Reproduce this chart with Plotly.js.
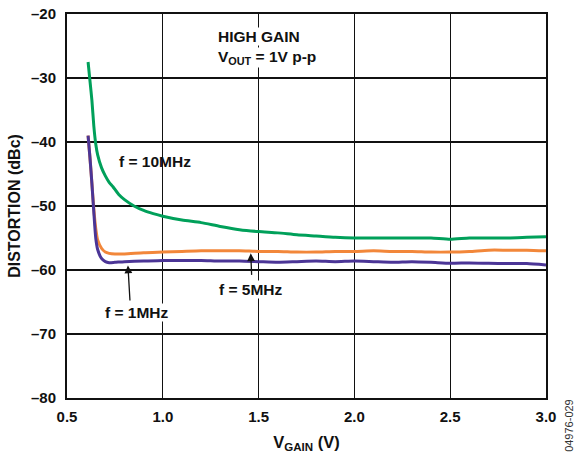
<!DOCTYPE html>
<html><head><meta charset="utf-8">
<script src="https://cdn.plot.ly/plotly-3.0.1.min.js"></script>
<style>html,body{margin:0;padding:0;background:#fff}#chart{width:576px;height:453px}</style>
</head><body><div id="chart"></div>
<script>
// V_GAIN (V) values and distortion (dBc) per frequency
var xF10 = [0.61,0.62,0.63,0.64,0.65,0.66,0.68,0.70,0.72,0.74,0.77,0.80,0.85,0.90,0.95,1.0,1.1,1.2,1.3,1.4,1.5,1.6,1.7,1.8,1.9,2.0,2.1,2.2,2.3,2.4,2.5,2.6,2.7,2.8,2.9,3.0];
var yF10 = [-27.5,-30.5,-33.5,-37.5,-40.3,-42.0,-44.0,-45.3,-46.3,-47.0,-48.2,-49.0,-50.0,-50.7,-51.2,-51.6,-52.2,-52.6,-53.2,-53.7,-54.0,-54.2,-54.5,-54.7,-54.9,-55.0,-55.0,-55.0,-55.0,-55.0,-55.2,-55.0,-55.0,-55.0,-54.9,-54.8];
var xF5 = [0.61,0.62,0.63,0.64,0.65,0.66,0.68,0.70,0.72,0.75,0.80,0.9,1.0,1.1,1.2,1.3,1.4,1.5,1.6,1.7,1.8,1.9,2.0,2.1,2.2,2.3,2.4,2.5,2.6,2.7,2.8,2.9,3.0];
var yF5 = [-39.0,-42.5,-46.5,-50.5,-53.5,-55.3,-56.6,-57.2,-57.4,-57.5,-57.5,-57.3,-57.2,-57.1,-57.0,-57.0,-57.0,-57.1,-57.1,-57.2,-57.2,-57.1,-57.1,-57.0,-57.1,-57.1,-57.2,-57.2,-57.1,-56.9,-56.9,-56.9,-57.0];
var xF1 = [0.61,0.62,0.63,0.64,0.65,0.66,0.68,0.70,0.72,0.75,0.80,0.9,1.0,1.1,1.2,1.3,1.4,1.5,1.6,1.7,1.8,1.9,2.0,2.1,2.2,2.3,2.4,2.5,2.6,2.7,2.8,2.9,3.0];
var yF1 = [-39.0,-42.5,-46.5,-51.0,-55.0,-56.8,-58.2,-58.7,-58.85,-58.8,-58.7,-58.6,-58.5,-58.5,-58.5,-58.6,-58.6,-58.7,-58.8,-58.7,-58.6,-58.7,-58.6,-58.7,-58.8,-58.7,-58.8,-58.95,-58.9,-58.95,-59.0,-59.0,-59.2];

var xTicks = [0.5,1.0,1.5,2.0,2.5,3.0];
var xTickText = ['0.5','1.0','1.5','2.0','2.5','3.0'];
var yTicks = [-80,-70,-60,-50,-40,-30,-20];
var yTickText = ['\u201380','\u201370','\u201360','\u201350','\u201340','\u201330','\u201320'];

var FONT = 'Liberation Sans, Arial, sans-serif';
var traces = [
  {x:xF10, y:yF10, mode:'lines', line:{color:'#00A05A', width:3, shape:'spline', smoothing:0.6}, hoverinfo:'none'},
  {x:xF5, y:yF5, mode:'lines', line:{color:'#F2873A', width:3, shape:'spline', smoothing:0.6}, hoverinfo:'none'},
  {x:xF1, y:yF1, mode:'lines', line:{color:'#4B3596', width:3, shape:'spline', smoothing:0.6}, hoverinfo:'none'}
];
var tf = {family:FONT, size:15.5, color:'#111'};
var layout = {
  width:576, height:453, showlegend:false,
  margin:{l:67, r:30, t:14, b:55},
  paper_bgcolor:'#fff', plot_bgcolor:'#fff',
  font:{family:FONT, color:'#111'},
  xaxis:{range:[0.5,3.0], tickvals:xTicks, ticktext:xTickText, showgrid:true, gridcolor:'#111', gridwidth:1.3,
    zeroline:false, showline:true, linecolor:'#111', linewidth:2, mirror:true, ticks:'', ticklabelstandoff:4,
    tickfont:{family:FONT, size:15, color:'#111', weight:'bold'},
    title:{text:'V<sub>GAIN</sub> (V)', font:{family:FONT, size:16.5, color:'#111', weight:'bold'}, standoff:12}},
  yaxis:{range:[-80,-20], tickvals:yTicks, ticktext:yTickText, showgrid:true, gridcolor:'#111', gridwidth:1.3,
    zeroline:false, showline:true, linecolor:'#111', linewidth:2, mirror:true, ticks:'', ticklabelstandoff:6,
    tickfont:{family:FONT, size:15, color:'#111', weight:'bold'},
    title:{text:'DISTORTION (dBc)', font:{family:FONT, size:16, color:'#111', weight:'bold'}, standoff:6}},
  annotations:[
    {x:1.281, y:-23.5, xref:'x', yref:'y', text:'<b>HIGH GAIN</b>', showarrow:false, xanchor:'left', yanchor:'middle', font:tf, bgcolor:'#fff', borderpad:0},
    {x:1.281, y:-26.8, xref:'x', yref:'y', text:'<b>V<sub>OUT</sub> = 1V p-p</b>', showarrow:false, xanchor:'left', yanchor:'middle', font:tf, bgcolor:'#fff', borderpad:0},
    {x:0.76, y:-43.1, xref:'x', yref:'y', text:'<b>f = 10MHz</b>', showarrow:false, xanchor:'left', yanchor:'middle', font:tf},
    {x:1.288, y:-63.0, xref:'x', yref:'y', text:'<b>f = 5MHz</b>', showarrow:false, xanchor:'left', yanchor:'middle', font:tf, bgcolor:'#fff', borderpad:0},
    {x:0.693, y:-66.7, xref:'x', yref:'y', text:'<b>f = 1MHz</b>', showarrow:false, xanchor:'left', yanchor:'middle', font:tf, bgcolor:'#fff', borderpad:0},
    {x:0.818, y:-59.3, ax:0.829, ay:-65.0, xref:'x', yref:'y', axref:'x', ayref:'y', text:'', showarrow:true, arrowhead:2, arrowsize:1.2, arrowwidth:1.3, arrowcolor:'#111'},
    {x:1.459, y:-57.4, ax:1.464, ay:-61.0, xref:'x', yref:'y', axref:'x', ayref:'y', text:'', showarrow:true, arrowhead:2, arrowsize:1.2, arrowwidth:1.3, arrowcolor:'#111'},
    {x:1.048, y:-0.07, xref:'paper', yref:'paper', text:'04976-029', showarrow:false, textangle:-90, xanchor:'center', yanchor:'middle', font:{family:FONT, size:11, color:'#333'}}
  ]
};
Plotly.newPlot('chart', traces, layout, {staticPlot:true, displayModeBar:false});
</script></body></html>
